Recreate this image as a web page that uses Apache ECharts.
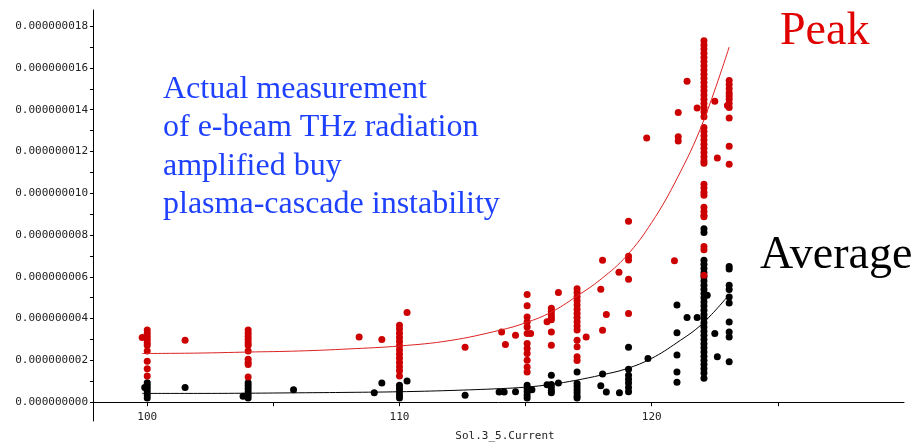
<!DOCTYPE html>
<html>
<head>
<meta charset="utf-8">
<script src="https://cdn.jsdelivr.net/npm/echarts@6/dist/echarts.min.js"></script>
<style>
html,body{margin:0;padding:0;background:#fff;}
#chart{width:921px;height:444px;}
</style>
</head>
<body>
<div id="chart"></div>
<script>
// All y values are in units of 1e-9
const yLabelValues = [0, 2, 4, 6, 8, 10, 12, 14, 16, 18];
const yTickValues = [0, 1, 2, 3, 4, 5, 6, 7, 8, 9, 10, 11, 12, 13, 14, 15, 16, 17, 18];
const xLabelValues = [100, 110, 120];
const xTickValues = [100, 105, 110, 115, 120, 125];

// Peak measurements: x position of each column and the values in it
const peakColumnX = [99.8, 100, 101.5, 104, 108.4, 109.3, 110, 110.3, 112.6, 114.05, 114.2, 114.6,
  115.06, 115.2, 115.85, 116.02, 116.3, 117.04, 117.4, 117.98, 118.05, 118.2, 118.7, 119.08,
  119.8, 120.9, 121.05, 121.4, 121.8, 122.07, 122.5, 122.6, 123.0, 123.07];
const peakColumnVals = [
  [3.1],
  [3.45, 3.3, 3.15, 3.0, 2.85, 2.72, 2.45, 1.96, 1.6, 1.25],
  [2.97],
  [3.45, 3.3, 3.15, 3.0, 2.85, 2.72, 2.45, 2.05, 1.9, 1.8, 1.2],
  [3.12],
  [3.0],
  [3.68, 3.5, 3.3, 3.1, 2.9, 2.7, 2.5, 2.3, 2.1, 1.9, 1.7, 1.5, 1.25],
  [4.29],
  [2.63],
  [3.36],
  [2.76],
  [3.2],
  [5.15, 4.61, 4.08, 3.84, 3.6, 3.29, 2.81, 2.57, 2.33, 2.01, 1.69, 1.45],
  [3.29],
  [3.85],
  [4.5, 4.35, 4.2, 4.05, 3.95, 3.36, 2.73],
  [5.25],
  [5.43, 5.25, 5.05, 4.85, 4.65, 4.45, 4.25, 4.05, 3.85, 3.65, 3.45, 2.97, 2.65, 2.17, 2.0],
  [3.12],
  [5.41],
  [6.79, 3.44],
  [4.2],
  [6.22],
  [8.66, 6.98, 6.8, 5.88, 4.24],
  [12.65],
  [6.77],
  [13.86, 12.7, 12.5],
  [15.36],
  [14.08],
  [17.3, 17.1, 16.9, 16.7, 16.5, 16.3, 16.1, 15.9, 15.7, 15.5, 15.3, 15.1, 14.9, 14.7, 14.5, 14.3,
   14.1, 13.9, 13.66, 13.15, 12.95, 12.75, 12.55, 12.35, 12.15, 11.95, 11.75, 11.55, 11.43,
   10.43, 10.25, 10.05, 9.9, 9.33, 9.13, 8.95, 8.87, 7.45, 7.3, 6.08],
  [14.4],
  [11.69],
  [14.2],
  [15.39, 15.2, 15.0, 14.8, 14.65, 14.5, 14.3, 14.1, 13.6, 12.25, 11.39]
];

// Average measurements
const avgColumnX = [99.9, 100, 101.5, 103.8, 104, 105.8, 109.0, 109.3, 110, 110.3, 112.6, 113.95,
  114.15, 114.6, 115.06, 115.25, 115.85, 116.02, 116.3, 117.04, 117.98, 118.05, 118.2, 118.72,
  119.08, 119.85, 121.0, 121.4, 121.8, 122.07, 122.2, 122.5, 122.6, 123.07];
const avgColumnVals = [
  [0.7],
  [0.93, 0.8, 0.65, 0.5, 0.35, 0.2],
  [0.7],
  [0.29],
  [0.93, 0.8, 0.65, 0.5, 0.35, 0.2],
  [0.6],
  [0.45],
  [0.92],
  [0.81, 0.65, 0.5, 0.35, 0.2],
  [1.02],
  [0.33],
  [0.49],
  [0.49],
  [0.5],
  [0.81, 0.65, 0.5, 0.35, 0.2],
  [0.6],
  [0.83],
  [1.29, 0.85, 0.7, 0.55, 0.45],
  [0.92],
  [1.45, 0.9, 0.75, 0.6, 0.45, 0.3, 0.2],
  [0.79],
  [1.35],
  [0.49],
  [0.45],
  [2.63, 1.58, 1.29, 1.1, 0.92, 0.7, 0.5],
  [2.09],
  [4.65, 3.32, 2.26, 1.45, 0.95],
  [4.05],
  [4.05],
  [8.3, 8.12, 6.79, 6.6, 6.4, 6.2, 6.0, 5.8, 5.6, 5.4, 5.2, 5.0, 4.8, 4.6, 4.4, 4.2, 4.0, 3.8,
   3.6, 3.4, 3.2, 3.0, 2.8, 2.6, 2.4, 2.2, 2.0, 1.8, 1.6, 1.4, 1.15],
  [5.12],
  [3.29],
  [2.17],
  [6.5, 6.38, 5.6, 5.39, 5.04, 4.75, 3.84, 3.36, 3.12, 1.93]
];

// Fitted trend curves
const fitX = [99.8, 102, 104, 106, 108, 110, 112, 114, 115, 116, 117, 118, 119, 120, 121, 122, 123.07];
const peakFitY = [2.33, 2.35, 2.4, 2.45, 2.55, 2.69, 2.95, 3.45, 3.8, 4.3, 5.05, 5.9, 7.0, 8.6, 10.7, 13.3, 17.0];
const avgFitY = [0.42, 0.42, 0.43, 0.45, 0.47, 0.5, 0.56, 0.65, 0.72, 0.85, 1.05, 1.3, 1.6, 2.1, 2.85, 3.75, 5.15];

function points(xs, vals) {
  const out = [];
  xs.forEach((x, i) => vals[i].forEach(v => out.push([x, v])));
  return out;
}
function pairs(xs, ys) { return xs.map((x, i) => [x, ys[i]]); }

const Y_MIN = -0.9, Y_MAX = 18.77, GRID_TOP = 10, GRID_BOTTOM = 23;
const gridHeight = 444 - GRID_TOP - GRID_BOTTOM;
// put the x axis on the y = 0 level (axis offset)
const xAxisOffset = -(0 - Y_MIN) / (Y_MAX - Y_MIN) * gridHeight;

const axisFont = { fontFamily: 'DejaVu Sans Mono', fontSize: 11, color: '#222' };
const serif = '"Liberation Serif", "Times New Roman", serif';
const chart = echarts.init(document.getElementById('chart'), null, { renderer: 'canvas' });
chart.setOption({
  animation: false,
  backgroundColor: '#fff',
  grid: { left: 93, right: 17, top: GRID_TOP, bottom: GRID_BOTTOM, containLabel: false, outerBoundsMode: 'none' },
  xAxis: {
    type: 'value', min: 97.85, max: 130, offset: xAxisOffset,
    name: 'Sol.3_5.Current', nameLocation: 'middle', nameGap: 28,
    nameTextStyle: Object.assign({}, axisFont, { padding: [0, 0, 0, 13] }),
    axisLine: { onZero: false, lineStyle: { color: '#000', width: 1 } },
    axisTick: { show: true, length: 4, customValues: xTickValues, lineStyle: { color: '#000' } },
    axisLabel: Object.assign({}, axisFont, { margin: 9, customValues: xLabelValues }),
    splitLine: { show: false }
  },
  yAxis: {
    type: 'value', min: Y_MIN, max: Y_MAX,
    axisLine: { show: true, onZero: false, lineStyle: { color: '#000', width: 1 } },
    axisTick: { show: true, length: 3, customValues: yTickValues, lineStyle: { color: '#000' } },
    axisLabel: Object.assign({}, axisFont, {
      margin: 5, customValues: yLabelValues,
      formatter: v => (v * 1e-9).toFixed(9)
    }),
    splitLine: { show: false }
  },
  series: [
    { type: 'scatter', name: 'Average', data: points(avgColumnX, avgColumnVals), symbolSize: 7,
      itemStyle: { color: '#000', opacity: 1 }, z: 2 },
    { type: 'scatter', name: 'Peak', data: points(peakColumnX, peakColumnVals), symbolSize: 7,
      itemStyle: { color: '#cc0000', opacity: 1 }, z: 3 },
    { type: 'line', data: pairs(fitX, peakFitY), smooth: 0.4, showSymbol: false, symbol: 'none',
      lineStyle: { color: '#dd2222', width: 1 }, z: 4 },
    { type: 'line', data: pairs(fitX, avgFitY), smooth: 0.4, showSymbol: false, symbol: 'none',
      lineStyle: { color: '#000', width: 1 }, z: 4 }
  ],
  graphic: [
    { type: 'text', x: 780, y: 32, style: { text: 'Peak', fill: '#e00000', font: '46px ' + serif, verticalAlign: 'middle' } },
    { type: 'text', x: 760, y: 256, style: { text: 'Average', fill: '#000', font: '46px ' + serif, verticalAlign: 'middle' } },
    { type: 'text', x: 163, y: 89.5, style: { text: 'Actual measurement', fill: '#1e40ff', font: '32px ' + serif, verticalAlign: 'middle' } },
    { type: 'text', x: 163, y: 128, style: { text: 'of e-beam THz radiation', fill: '#1e40ff', font: '32px ' + serif, verticalAlign: 'middle' } },
    { type: 'text', x: 163, y: 166.5, style: { text: 'amplified buy', fill: '#1e40ff', font: '32px ' + serif, verticalAlign: 'middle' } },
    { type: 'text', x: 163, y: 205, style: { text: 'plasma-cascade instability', fill: '#1e40ff', font: '32px ' + serif, verticalAlign: 'middle' } }
  ]
});
</script>
</body>
</html>
